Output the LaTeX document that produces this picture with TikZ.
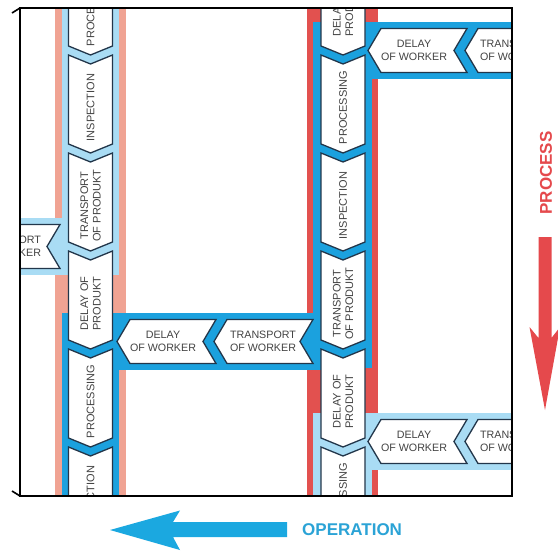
\documentclass[tikz,border=0pt]{standalone}
\usepackage{fontspec}
\setmainfont{Liberation Sans}
\definecolor{dblue}{HTML}{1BA1DE}
\definecolor{lblue}{HTML}{A9DCF4}
\definecolor{redB}{HTML}{E2514F}
\definecolor{salmonA}{HTML}{F0A393}
\definecolor{outl}{HTML}{22364A}
\definecolor{txt}{HTML}{434343}
\definecolor{arrblue}{HTML}{1BA8E0}
\definecolor{opblue}{HTML}{2BA3D6}
\definecolor{arrred}{HTML}{E5494C}
\tikzset{
  nodeline/.style={draw=outl, fill=white, line width=1.3pt, line join=miter},
  vtext/.style={rotate=90, align=center, text=txt, font=\fontsize{11}{12.5}\selectfont, inner sep=0pt},
  htext/.style={align=center, text=txt, font=\fontsize{10.7}{12.5}\selectfont, inner sep=0pt},
  framel/.style={draw=black, line width=1.6pt},
}
\newcommand\VChev[4]{%
  \draw[nodeline] ({#2-22},{#3}) -- ({#2},{#3+9}) -- ({#2+22},{#3}) -- ({#2+22},{#3+89}) -- ({#2},{#3+98}) -- ({#2-22},{#3+89}) -- cycle;
  \node[vtext] (#1) at ({#2},{#3+52.5}) {#4};}
\newcommand\HChev[5]{%
  \draw[nodeline] ({#2},{#3}) -- ({#2+13},{#3-22}) -- ({#2+99},{#3-22}) -- ({#2+86},{#3}) -- ({#2+99},{#3+22}) -- ({#2+13},{#3+22}) -- cycle;
  \node[htext] (#1) at ({#2+#5},{#3}) {#4};}
\begin{document}
\begin{tikzpicture}[x=1pt,y=-1pt]
\useasboundingbox (0,0) rectangle (558,552);
\fill[white] (0,0) rectangle (558,552);
\begin{scope}
\clip (20,8) rectangle (512,496);
% process columns (red)
\fill[salmonA] (55,0) rectangle (126,500);
\fill[redB] (307,0) rectangle (378,500);
% worker bands
\fill[lblue] (62,0) rectangle (119,275);
\fill[lblue] (0,218) rectangle (90,275);
\fill[dblue] (62,313) rectangle (119,500);
\fill[dblue] (90,313) rectangle (343,370);
\fill[dblue] (313,22) rectangle (372,368);
\fill[dblue] (343,22) rectangle (520,79);
\fill[lblue] (313,413) rectangle (372,500);
\fill[lblue] (343,413) rectangle (520,470);
% column A
\VChev{a1}{90.5}{-43}{PROCESSING}
\VChev{a2}{90.5}{55}{INSPECTION}
\VChev{a3}{90.5}{153}{TRANSPORT\\OF PRODUKT}
\VChev{a4}{90.5}{251}{DELAY OF\\PRODUKT}
\VChev{a5}{90.5}{349}{PROCESSING}
\VChev{a6}{90.5}{447}{INSPECTION}
% column B
\VChev{b1}{343}{-43}{DELAY OF\\PRODUKT}
\VChev{b2}{343}{55}{PROCESSING}
\VChev{b3}{343}{153}{INSPECTION}
\VChev{b4}{343}{251}{TRANSPORT\\OF PRODUKT}
\VChev{b5}{343}{349}{DELAY OF\\PRODUKT}
\VChev{b6}{343}{447}{PROCESSING}
% rows
\HChev{r1a}{368}{50.5}{DELAY\\OF WORKER}{46}
\HChev{r1b}{465}{50.5}{TRANSPORT\\OF WORKER}{48}
\HChev{r2a}{117}{341.5}{DELAY\\OF WORKER}{46}
\HChev{r2b}{214}{341.5}{TRANSPORT\\OF WORKER}{49}
\HChev{r3a}{-39}{246.5}{TRANSPORT\\OF WORKER}{47}
\HChev{r4a}{368}{441.5}{DELAY\\OF WORKER}{46}
\HChev{r4b}{465}{441.5}{TRANSPORT\\OF WORKER}{48}
\end{scope}
% frame
\draw[framel, line join=miter] (20,8) -- (512,8) -- (512,496) -- (20,496) -- cycle;
\draw[framel] (12,13) -- (20,8);
\draw[framel] (12,491) -- (20,496);
% operation arrow
\fill[arrblue] (110,530) -- (180,510.5) -- (173,522) -- (287,522) -- (287,537) -- (173,537) -- (180,550) -- cycle;
\node[text=opblue, font=\bfseries\fontsize{17}{17}\selectfont, anchor=west, inner sep=0pt] (op) at (302,530) {OPERATION};
% process arrow
\fill[arrred] (545,410) -- (529.5,327) -- (538.5,338) -- (538.5,237) -- (551.5,237) -- (551.5,338) -- (560,327) -- cycle;
\node[text=arrred, font=\bfseries\fontsize{17}{17}\selectfont, rotate=90, inner sep=0pt] (pr) at (546,173) {PROCESS};
\end{tikzpicture}
\end{document}
